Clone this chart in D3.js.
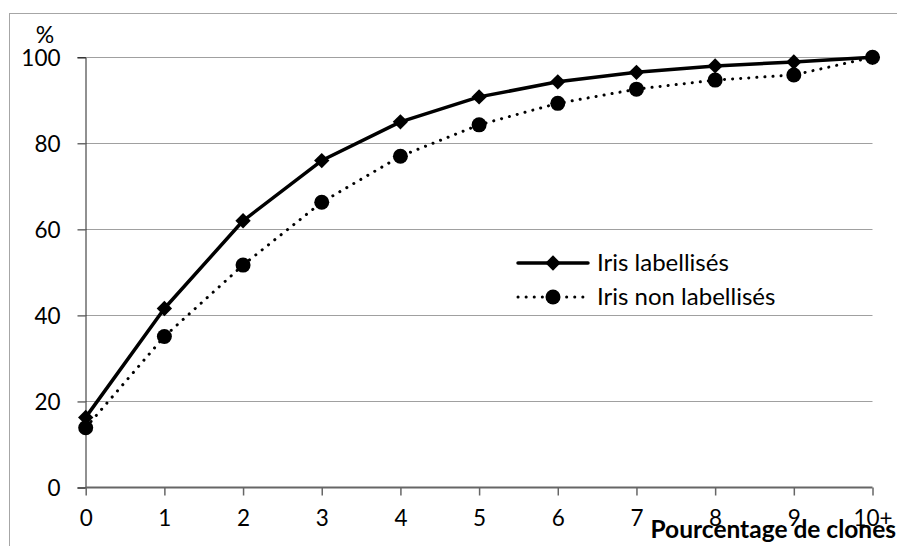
<!DOCTYPE html>
<html>
<head>
<meta charset="utf-8">
<script src="https://cdn.jsdelivr.net/npm/d3@7"></script>
<style>
  body { margin: 0; background: #fff; }
  svg { display: block; font-family: Lato, "Open Sans", sans-serif; }
</style>
</head>
<body>
<div id="chart"></div>
<script>
'use strict';

// x categories (percentage of clones)
var categories = ['0', '1', '2', '3', '4', '5', '6', '7', '8', '9', '10+'];

// cumulative % per series
var labellises = [16.3, 41.6, 62, 76, 85, 90.8, 94.3, 96.5, 98, 98.9, 100];
var nonLabellises = [13.9, 35.1, 51.7, 66.3, 77, 84.3, 89.3, 92.6, 94.7, 95.9, 100];

var yTicks = [0, 20, 40, 60, 80, 100];

var seriesNames = ['Iris labellisés', 'Iris non labellisés'];

var width = 897, height = 546;

var svg = d3.select('#chart').append('svg')
    .attr('width', width)
    .attr('height', height);

// outer chart frame
svg.append('rect')
    .attr('x', 9.5).attr('y', 13.5)
    .attr('width', 900).attr('height', 600)
    .attr('fill', 'none')
    .attr('stroke', '#a6a6a6')
    .attr('stroke-width', 1);

var x = d3.scalePoint().domain(categories).range([85.7, 872.5]);
var y = d3.scaleLinear().domain([0, 100]).range([487.5, 57.3]);

// gridlines
svg.append('g')
  .selectAll('line')
  .data(yTicks.filter(function(d) { return d > 0; }))
  .enter().append('line')
    .attr('x1', 85.7).attr('x2', 872.5)
    .attr('y1', function(d) { return Math.round(y(d)) + 0.5; })
    .attr('y2', function(d) { return Math.round(y(d)) + 0.5; })
    .attr('stroke', '#a0a0a0')
    .attr('stroke-width', 1);

// y axis
var yAxis = svg.append('g')
    .attr('transform', 'translate(85.5,0)')
    .call(d3.axisLeft(y).tickValues(yTicks).tickSize(8).tickPadding(17));
yAxis.select('.domain').attr('stroke', '#222').attr('stroke-width', 1);
yAxis.selectAll('.tick line').attr('stroke', '#222');
yAxis.selectAll('.tick text')
    .attr('font-size', 22.5).attr('font-family', 'Lato, sans-serif')
    .attr('fill', '#000').attr('dy', '0.36em');

// x axis
var xAxis = svg.append('g')
    .attr('transform', 'translate(0,487.5)')
    .call(d3.axisBottom(x).tickSize(8).tickPadding(15));
xAxis.select('.domain').attr('stroke', '#666').attr('stroke-width', 2)
    .attr('d', 'M85.7,0H872.5');
xAxis.selectAll('.tick line').attr('stroke', '#666').attr('stroke-width', 1.5);
xAxis.selectAll('.tick text')
    .attr('font-size', 22.5).attr('font-family', 'Lato, sans-serif')
    .attr('fill', '#000');

// y unit
svg.append('text')
    .attr('x', 45).attr('y', 43)
    .attr('text-anchor', 'middle')
    .attr('font-size', 23)
    .text('%');

// x title
svg.append('text')
    .attr('x', 896).attr('y', 538)
    .attr('text-anchor', 'end')
    .attr('font-size', 24.5)
    .attr('font-weight', 'bold')
    .text('Pourcentage de clones');

var line = d3.line()
    .x(function(d, i) { return x(categories[i]); })
    .y(function(d) { return y(d); });

var diamond = d3.symbol().type(d3.symbolDiamond2).size(150);

// non labellises (dotted + circles)
svg.append('path')
    .datum(nonLabellises)
    .attr('d', line)
    .attr('fill', 'none')
    .attr('stroke', '#000')
    .attr('stroke-width', 3)
    .attr('stroke-linecap', 'round')
    .attr('stroke-dasharray', '0.1 8');

svg.append('g').selectAll('circle')
    .data(nonLabellises)
    .enter().append('circle')
    .attr('cx', function(d, i) { return x(categories[i]); })
    .attr('cy', function(d) { return y(d); })
    .attr('r', 7.5)
    .attr('fill', '#000');

// labellises (solid + diamonds)
svg.append('path')
    .datum(labellises)
    .attr('d', line)
    .attr('fill', 'none')
    .attr('stroke', '#000')
    .attr('stroke-width', 3.5)
    .attr('stroke-linejoin', 'round');

svg.append('g').selectAll('path')
    .data(labellises)
    .enter().append('path')
    .attr('transform', function(d, i) { return 'translate(' + x(categories[i]) + ',' + y(d) + ')'; })
    .attr('d', diamond)
    .attr('fill', '#000');

// legend
var legend = svg.append('g');
var rows = legend.selectAll('g')
    .data(seriesNames)
    .enter().append('g')
    .attr('transform', function(d, i) { return 'translate(0,' + (263 + i * 34) + ')'; });

rows.append('line')
    .attr('x1', 518).attr('x2', 588)
    .attr('y1', 0).attr('y2', 0)
    .attr('stroke', '#000')
    .attr('stroke-width', function(d, i) { return i === 0 ? 3.5 : 3; })
    .attr('stroke-linecap', 'round')
    .attr('stroke-dasharray', function(d, i) { return i === 0 ? null : '0.1 8'; });

rows.each(function(d, i) {
  var r = d3.select(this);
  if (i === 0) {
    r.append('path').attr('transform', 'translate(553,0)').attr('d', diamond).attr('fill', '#000');
  } else {
    r.append('circle').attr('cx', 553).attr('cy', 0).attr('r', 7.5).attr('fill', '#000');
  }
});

rows.append('text')
    .attr('x', 597).attr('y', 8)
    .attr('font-size', 24)
    .text(function(d) { return d; });
</script>
</body>
</html>
